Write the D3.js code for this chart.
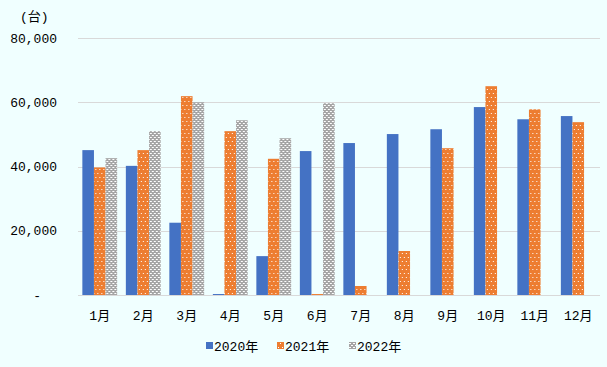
<!DOCTYPE html>
<html>
<head>
<meta charset="utf-8">
<script src="https://d3js.org/d3.v7.min.js"></script>
<style>
  body { margin: 0; background: #f0ffff; }
  text { font-family: "Liberation Mono", "Noto Sans CJK JP", monospace; font-size: 13px; fill: #000; }
</style>
</head>
<body>
<div id="chart"></div>
<script>
// monthly sales (units)
const months = ["1月","2月","3月","4月","5月","6月","7月","8月","9月","10月","11月","12月"];
const seriesNames = ["2020年","2021年","2022年"];
const v2020 = [45100, 40200, 22500, 300, 12100, 44800, 47300, 50100, 51600, 58500, 54700, 55700];
const v2021 = [39700, 45100, 61900, 51000, 42400, 300, 2800, 13700, 45700, 65000, 57800, 53800];
const v2022 = [42600, 51000, 60000, 54400, 48800, 59700, null, null, null, null, null, null];
const yTicks = [0, 20000, 40000, 60000, 80000];

const width = 607, height = 367;
const margin = { top: 38, right: 7, bottom: 72, left: 78 };

const svg = d3.select("#chart").append("svg")
  .attr("width", width)
  .attr("height", height);

// patterns for orange dots and grey checks
const defs = svg.append("defs");
const pOrange = defs.append("pattern").attr("id", "pOrange")
  .attr("patternUnits", "userSpaceOnUse").attr("width", 4).attr("height", 8);
pOrange.append("rect").attr("width", 4).attr("height", 8).attr("fill", "#ED7D31");
pOrange.append("rect").attr("x", 1).attr("y", 1).attr("width", 1).attr("height", 1).attr("fill", "#fff");
pOrange.append("rect").attr("x", 3).attr("y", 5).attr("width", 1).attr("height", 1).attr("fill", "#fff");

const pGrey = defs.append("pattern").attr("id", "pGrey")
  .attr("patternUnits", "userSpaceOnUse").attr("width", 4).attr("height", 4);
pGrey.append("rect").attr("width", 4).attr("height", 4).attr("fill", "#A5A5A5");
pGrey.append("rect").attr("x", 0).attr("y", 1).attr("width", 2).attr("height", 1).attr("fill", "#fff");
pGrey.append("rect").attr("x", 2).attr("y", 3).attr("width", 2).attr("height", 1).attr("fill", "#fff");

const fills = ["#4472C4", "url(#pOrange)", "url(#pGrey)"];

const x = d3.scaleBand().domain(months)
  .range([margin.left, width - margin.right])
  .paddingInner(0.2).paddingOuter(0.1);
const xs = d3.scaleBand().domain(seriesNames).range([0, x.bandwidth()]);
const y = d3.scaleLinear().domain([0, 80000]).range([height - margin.bottom, margin.top]);

// gridlines
svg.append("g").selectAll("line")
  .data(yTicks)
  .join("line")
  .attr("x1", margin.left).attr("x2", width - margin.right)
  .attr("y1", d => Math.round(y(d)) + 0.5).attr("y2", d => Math.round(y(d)) + 0.5)
  .attr("stroke", "#d9d9d9").attr("stroke-width", 1);

// y labels
svg.append("g").selectAll("text")
  .data(yTicks)
  .join("text")
  .attr("x", d => d === 0 ? 41 : 57)
  .attr("y", d => y(d))
  .attr("dy", "0.35em")
  .attr("text-anchor", "end")
  .text(d => d === 0 ? "-" : d3.format(",")(d));

svg.append("text").attr("x", 20).attr("y", 21).text("(台)");

// bars
const table = months.map((m, i) => ({ m, vals: [v2020[i], v2021[i], v2022[i]] }));
const groups = svg.append("g").selectAll("g")
  .data(table)
  .join("g")
  .attr("transform", d => `translate(${x(d.m)},0)`);

groups.selectAll("rect")
  .data(d => d.vals.map((v, k) => ({ v, k })).filter(e => e.v != null))
  .join("rect")
  .attr("x", e => xs(seriesNames[e.k]))
  .attr("width", xs.bandwidth())
  .attr("y", e => y(e.v))
  .attr("height", e => y(0) - y(e.v))
  .attr("fill", e => fills[e.k]);

// x labels
svg.append("g").selectAll("text")
  .data(months)
  .join("text")
  .attr("x", d => x(d) + x.bandwidth() / 2)
  .attr("y", 320)
  .attr("text-anchor", "middle")
  .text(d => d);

// legend
const legendX = [206, 277, 349];
const legend = svg.append("g").selectAll("g")
  .data(seriesNames)
  .join("g")
  .attr("transform", (d, i) => `translate(${legendX[i]},346)`);
legend.append("rect").attr("y", -4).attr("width", 7).attr("height", 7)
  .attr("fill", (d, i) => fills[i]);
legend.append("text").attr("x", 8).attr("y", 0).attr("dy", "0.35em").text(d => d);
</script>
</body>
</html>
